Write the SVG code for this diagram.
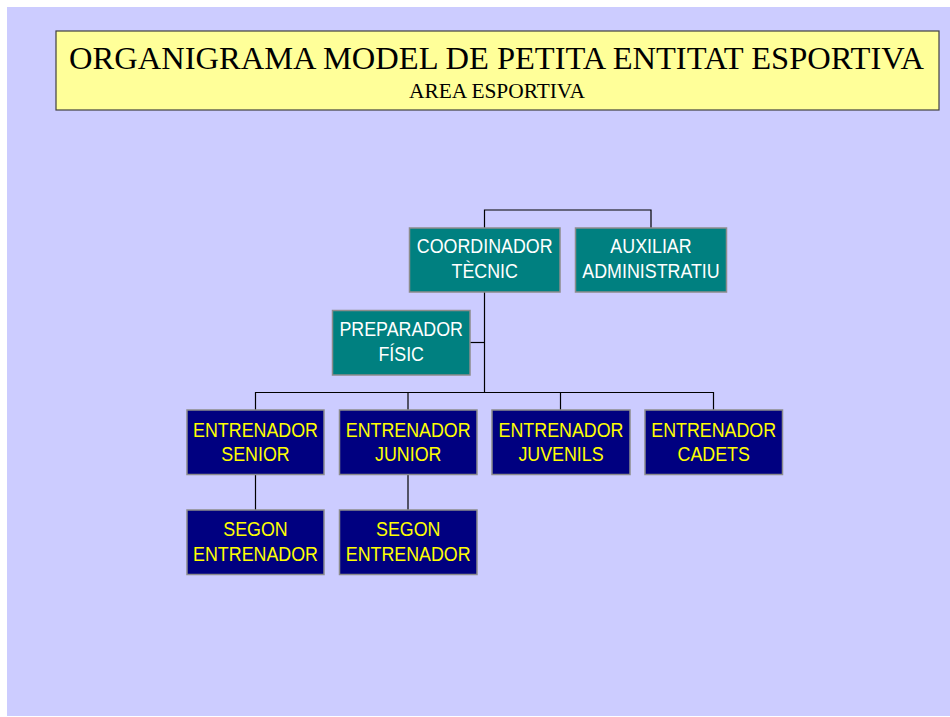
<svg xmlns="http://www.w3.org/2000/svg" width="950" height="717" viewBox="0 0 950 717">
<style>
.bg{fill:#CCCCFF}
.title{fill:#FFFF99;stroke:#404040;stroke-width:1.2}
.teal{fill:#008080;stroke:#8C8C8C;stroke-width:1.5}
.navy{fill:#000080;stroke:#8C8C8C;stroke-width:1.5}
.tw{fill:#FFFFFF;font-family:"Liberation Sans",Arial,sans-serif;font-size:21px;text-anchor:middle}
.ty{fill:#FFFF00;font-family:"Liberation Sans",Arial,sans-serif;font-size:21px;text-anchor:middle}
.conn{fill:none;stroke:#000000;stroke-width:1.2}
.serif{font-family:"Liberation Serif","Times New Roman",serif;fill:#000000;text-anchor:middle}
</style>
<rect x="0" y="0" width="950" height="717" fill="#FFFFFF"/>
<rect class="bg" x="7" y="7" width="943" height="709"/>
<g id="title">
<rect class="title" x="56" y="31" width="883" height="79"/>
<text class="serif" x="496.5" y="68.5" font-size="31" textLength="855" lengthAdjust="spacingAndGlyphs">ORGANIGRAMA MODEL DE PETITA ENTITAT ESPORTIVA</text>
<text class="serif" x="497" y="98.3" font-size="20" textLength="176" lengthAdjust="spacingAndGlyphs">AREA ESPORTIVA</text>
</g>
<g id="connectors">
<polyline class="conn" points="484.5,228 484.5,210 651,210 651,228"/>
<line class="conn" x1="484.5" y1="292" x2="484.5" y2="392.5"/>
<line class="conn" x1="470" y1="342.5" x2="484.5" y2="342.5"/>
<polyline class="conn" points="255.5,410 255.5,392.5 713.5,392.5 713.5,410"/>
<line class="conn" x1="408" y1="392.5" x2="408" y2="410"/>
<line class="conn" x1="560.5" y1="392.5" x2="560.5" y2="410"/>
<line class="conn" x1="255.5" y1="474" x2="255.5" y2="510"/>
<line class="conn" x1="408" y1="474" x2="408" y2="510"/>
</g>
<g id="coordinador">
<rect class="teal" x="409.5" y="228" width="150.5" height="64"/>
<text class="tw" transform="translate(484.7,253) scale(0.85,1)">COORDINADOR</text>
<text class="tw" transform="translate(484.7,278) scale(0.85,1)">TÈCNIC</text>
</g>
<g id="auxiliar">
<rect class="teal" x="575.5" y="228" width="151" height="64"/>
<text class="tw" transform="translate(651,253) scale(0.85,1)">AUXILIAR</text>
<text class="tw" transform="translate(651,278) scale(0.85,1)">ADMINISTRATIU</text>
</g>
<g id="preparador">
<rect class="teal" x="332.5" y="310.5" width="137.5" height="64.5"/>
<text class="tw" transform="translate(401.2,336) scale(0.85,1)">PREPARADOR</text>
<text class="tw" transform="translate(401.2,361) scale(0.85,1)">FÍSIC</text>
</g>
<g id="senior">
<rect class="navy" x="187" y="410" width="137" height="64.5"/>
<text class="ty" transform="translate(255.5,436.5) scale(0.85,1)">ENTRENADOR</text>
<text class="ty" transform="translate(255.5,461) scale(0.85,1)">SENIOR</text>
</g>
<g id="junior">
<rect class="navy" x="339.5" y="410" width="137.5" height="64.5"/>
<text class="ty" transform="translate(408.2,436.5) scale(0.85,1)">ENTRENADOR</text>
<text class="ty" transform="translate(408.2,461) scale(0.85,1)">JUNIOR</text>
</g>
<g id="juvenils">
<rect class="navy" x="492" y="410" width="138" height="64.5"/>
<text class="ty" transform="translate(561,436.5) scale(0.85,1)">ENTRENADOR</text>
<text class="ty" transform="translate(561,461) scale(0.85,1)">JUVENILS</text>
</g>
<g id="cadets">
<rect class="navy" x="645" y="410" width="137.5" height="64.5"/>
<text class="ty" transform="translate(713.7,436.5) scale(0.85,1)">ENTRENADOR</text>
<text class="ty" transform="translate(713.7,461) scale(0.85,1)">CADETS</text>
</g>
<g id="segon1">
<rect class="navy" x="187" y="510" width="137" height="64.5"/>
<text class="ty" transform="translate(255.5,536) scale(0.85,1)">SEGON</text>
<text class="ty" transform="translate(255.5,560.5) scale(0.85,1)">ENTRENADOR</text>
</g>
<g id="segon2">
<rect class="navy" x="339.5" y="510" width="137.5" height="64.5"/>
<text class="ty" transform="translate(408.2,536) scale(0.85,1)">SEGON</text>
<text class="ty" transform="translate(408.2,560.5) scale(0.85,1)">ENTRENADOR</text>
</g>
</svg>
